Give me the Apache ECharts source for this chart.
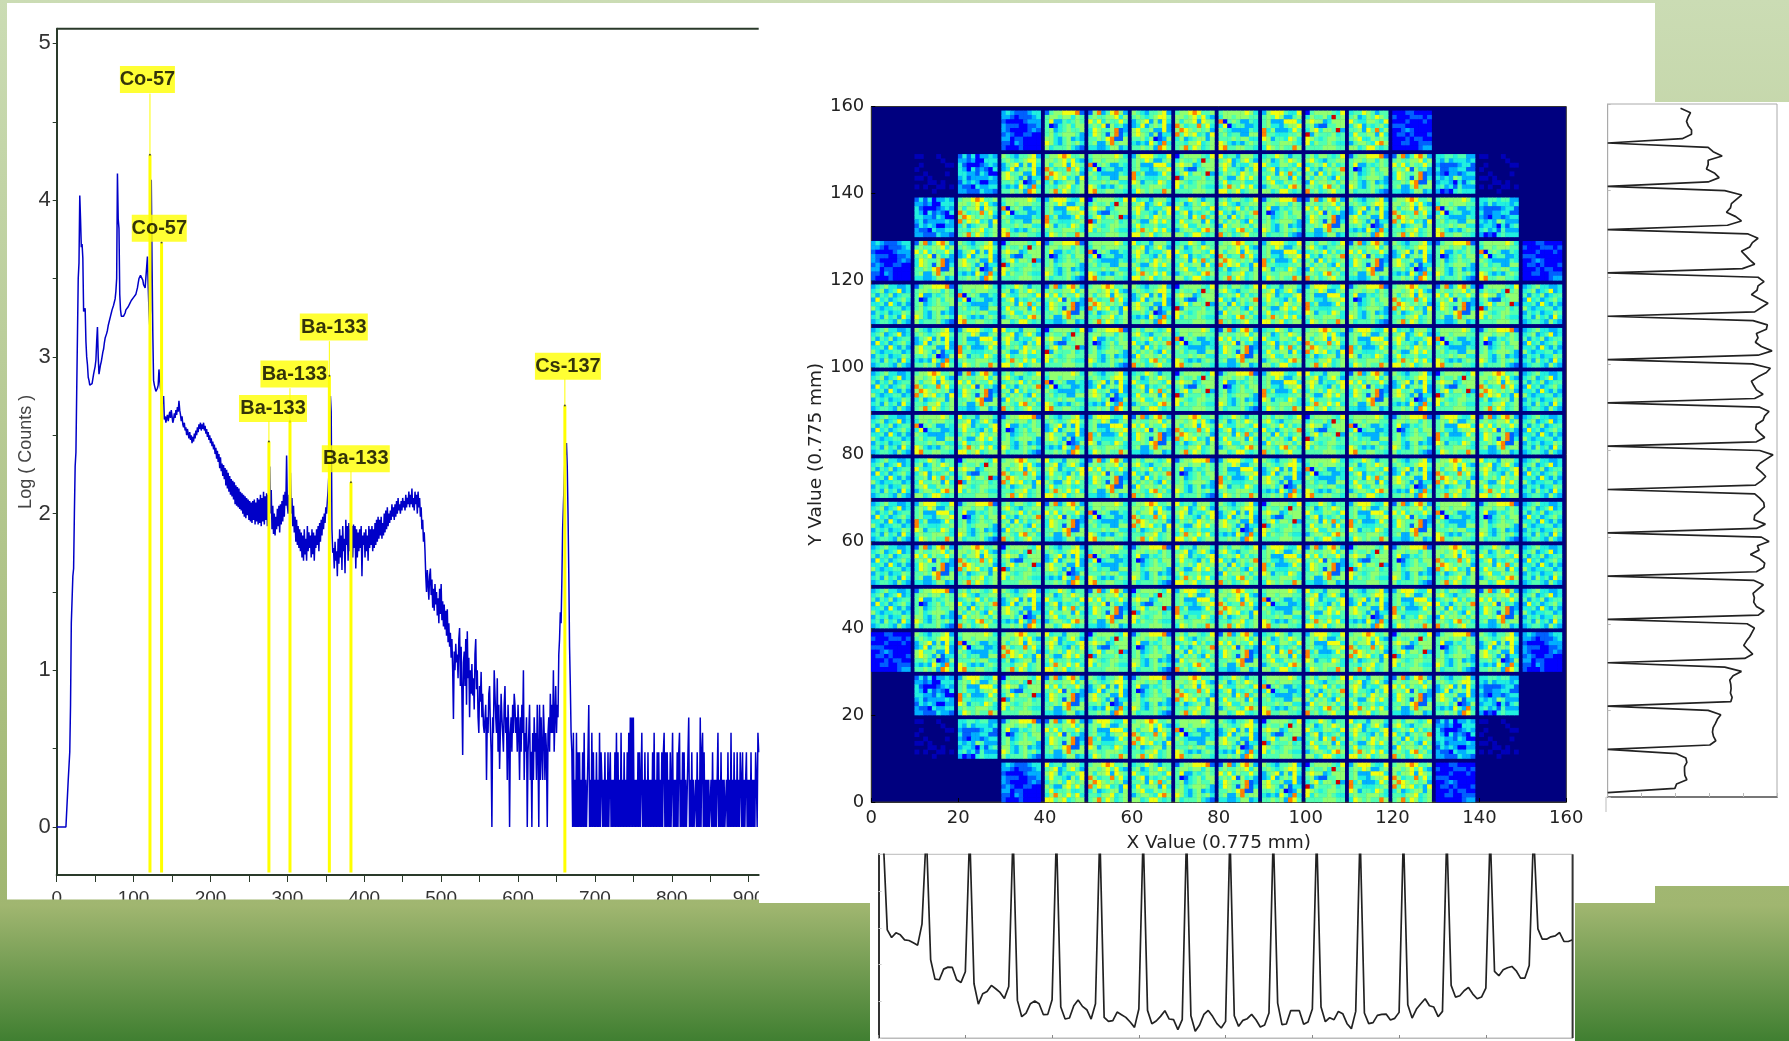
<!DOCTYPE html>
<html><head><meta charset="utf-8">
<style>html,body{margin:0;padding:0;background:#fff}#c{width:1789px;height:1041px}</style>
<script src="https://cdn.jsdelivr.net/npm/echarts@6/dist/echarts.min.js"></script>
</head><body><div id="c"></div>
<script>
// ---------- Gamma spectrum: log10(counts) x 100 ----------
const specA=[0,0,0,0,0,0,0,0,0,0,0,0,0,0,0,30,30,48,78,130,130,160,165,200,230,239,277,277,350,360,403,388,370,372,363,329,330,331,310,300,295,287,285,282,281,282,283,286,289,290,294,298,310,319,300,289,292,295,297,300,303,305,309,312,313,315,317,320,321,324,326,328,330,331,333,335,337,342,350,417,388,382,340,330,326,325,326,326,327,328,330,331,331,332,333,334,335,336,337,337,338,338,339,340,341,344,347,350,351,352,352,351,349,346,345,344,344,344,364,345,330,320,330,413,360,315,285,282,280,278,279,280,282,292,285,280,278,276,270,275];
const specB=[260,262,258,261,263,259,262,265,261,266,262,258,260,264,261,266,263,268,265,272,266,263,259,262,257,255,258,253,255,250,254,251,248,252,247,250,245,249,246,251,248,253,250,255,252,257,254,258,253,257,254,258,253,256,251,254,249,252,247,250,245,248,243,246,241,244,238,242,235,240,233,238,229,236,227,232,224,231,222,229,218,228,216,226,214,224,212,222,211,221,209,220,206,218,205,217,204,216,203,214,202,213,200,212,198,211,197,210,199,209,196,208,195,207,194,208,196,209,193,207,195,210,193,209,194,212,192,210,195,214,193,211,196,213,192,212,195,230,200,215,190,205,187,200,186,198,190,203,192,205,188,206,193,208,195,212,198,214,205,237];
const specC=[205,200,212,205,226,200,210,192,205,188,198,182,196,180,192,178,190,176,188,172,186,170,190,174,184,170,192,176,188,178,186,172,190,174,188,170,186,178,190,180,192,176,194,182,196,186,198,190,200,194,204,200,208,215,225,240,275,265,190,175,178,165,182,170,176,160,184,168,190,172,186,164,192,176,184,162,196,180,192,170,194,176,190,180,192,172,193,178,192,165,190,172,188,176,190,178,192,160,186,180,188,172,190,176,186,170,192,178,190,180,192,176,190,178,194,180,196,182,198,184,196,186,198,184,194,186,200,188,202,190,204,192,200,194,202,196,206,198,204,196,206,198,208,200,210,202,206,200,208,202,210,204,208,202,212,204,210,206,214,204,212,206,216,204,210,202,214,206,212,200,214,204,210,198,204,190,196,182,188,176];
const specD=[160,150,164,155,145,160,165,148,158,140,152,138,155,142,150,135,146,130,152,136,155,132,144,128,142,126,138,122,139,118,130,115,124,108,120,100,69,112,100,117,105,110,95,120,127,90,115,85,46,105,112,90,120,78,125,95,108,70,100,85,104,84,95,75,110,120,88,100,70,60,90,80,99,70,85,65,60,59,78,30,70,60,85,90,65,48,0,70,60,100,85,70,60,95,48,78,37,60,85,70,60,48,78,90,60,70,30,78,60,0,60,70,48,78,60,85,78,60,70,48,78,60,30,70,48,78,60,100,30,60,48,70,0,48,60,78,30,48,0,60,30,70,48,60,30,78,48,0,78,30,70,48,30,78,60,30,60,48,0,60,70,48,85,60,78,60,100,48,70,90,60,78,70,110,120,137,130,157,190,205,220,235,240,245,230,200,162,115,90,60];
// raw counts per channel from channel 670 upward (low-statistics tail)
const tailCounts=("3141214131"+"3121314121"+"1361214131"+"2131214132"+"1213121312"+"3121213141"+"3121412131"+"2131415151"+"5121213131"+"1412131213"+"1212131412"+"1313121313"+"4131312131"+"1412121313"+"4121313121"+"1151213121"+"1213121513"+"4131212121"+"1213121212"+"4121312121"+"1213121412"+"1312131213"+"2131212312"+"1213121213"+"2143").split("").map(Number);

// ---------- Peak annotations ----------
const isoNames=["Co-57","Co-57","Ba-133","Ba-133","Ba-133","Ba-133","Cs-137"];
const isoChannels=[121.3,136.4,276,303.4,354.6,382.7,660.9];
const isoPeaks=[4.29,3.73,2.46,2.59,2.88,2.20,2.69];
const isoLineTops=[4.68,3.73,2.59,2.80,3.10,2.27,2.86];
const isoLabelCh=[118,133.4,281.3,309.2,360.4,389,664.9];
const isoLabelVal=[4.77,3.82,2.67,2.89,3.19,2.35,2.94];
const isoLabelWidth=[55,55,68,68,68,68,66];

// ---------- Axis ticks ----------
const specXLabels=[0,100,200,300,400,500,600,700,800,900];
const specXTicks=[0,50,100,150,200,250,300,350,400,450,500,550,600,650,700,750,800,850,900];
const specYLabels=[0,1,2,3,4,5];
const specYTicks=[0,0.5,1,1.5,2,2.5,3,3.5,4,4.5,5];

// ---------- Detector map: 9x9 tiles read from zoomed modules (digit = colour level on the jet scale),
// and which tile sits at each of the 16x16 module positions. Tiles are re-used across modules: an approximation.
const tiles={
a:["256677782","566566465","573354565","512456466","563456556","564566653","664356343","764356564","645556432"],
b:["268357863","565566746","757465575","565726453","476556823","476526824","556578226","563368566","443346634"],
c:["654355673","565456775","356736374","347356573","675563373","676536244","556461236","434375384","556563875"],
d:["566787556","665675743","646673765","864558574","687656563","857674537","463456636","554667456","568576456"],
e:["566666764","466566655","815653354","471455334","654333354","564553366","555656644","764343565","785566554"],
f:["367775447","565763356","563337774","564435667","846333475","855444556","763554764","565566654","476565586"],
g:["156666547","465564956","676634666","563225566","467466593","936555645","765456655","746556544","555566655"],
h:["745536664","567346753","676354467","575543647","465647656","653367575","574556445","468657574","775674566"],
i:["455765355","563465765","754466547","467354564","556375846","475566374","567446565","356654786","664577545"],
j:["564665457","675435566","456574645","745356568","563746456","646564375","375665646","565478564","856456755"],
k:["345644334","456345734","535463455","374534564","445374353","643445534","354534465","453645374","345543643"],
D:["343222344","332122234","211112333","322211223","321111232","232112211","331221111","221321111","211121111"],
E:["111221111","211122212","111211121","222111111","112321111","122121112","111212211","112211222","111111233"],
M:["242413343","332311444","421112343","431423214","443324311","342333343","243431133","322143344","332224332"],
N:["445545533","435344434","322223442","422334422","321332344","434365333","344314245","453425333","312145444"],
F:["aa000a000","000000a00","0a00000aa","a00000000","00a0000a0","aa0a00000","000aa0a00","a0a00aa0a","0000a0000"]
};
const moduleMap=[
"...DabcdefgiE...",
".FMcdefghijabNF.",
".MdefghijabcdeN.",
"DbcgaehidfjbcaeE",
"kaeibdcgjhfadbgk",
"kcfhgajebidfheak",
"kdbjecigafhbcgdk",
"kehacfbdijgeafbk",
"kigdhbjafceicdhk",
"kfajbedhcgifbeak",
"kbdgceahjfbgadik",
"kajcibgfdehcfjbk",
"EcedhgajbifdgacD",
".MfgbcadiejhbcN.",
".FNabfdecgihjMF.",
"...DhdiabcgfdE..."];
const jetColors=["#00007f","#0000ff","#0060ff","#00b0ff","#20f0e0","#50ffb0","#90ff70","#f0ff10","#ff8000","#d00000"];
const heatTicks=[0,20,40,60,80,100,120,140,160];

// ---------- Side profiles ----------
const bottomProfile=[620,620,325,302,316,310,295,293,286,279,342,620,235,177,175,207,213,212,175,167,199,620,163,102,133,140,158,148,137,119,155,620,113,64,75,103,111,103,70,71,115,620,93,57,60,97,114,95,85,57,103,620,62,50,52,78,70,62,48,32,87,620,83,43,51,65,82,57,55,25,55,620,67,20,39,71,83,65,43,30,50,620,67,35,53,58,71,55,33,39,75,620,105,40,42,82,82,82,41,48,87,620,93,49,61,55,80,73,43,28,80,620,75,43,46,68,71,72,54,59,77,620,100,60,87,103,118,97,93,64,80,620,158,123,127,142,152,132,118,123,150,620,200,187,205,211,215,202,180,180,218,620,328,297,297,304,307,317,290,290,295];
const rightProfile=[0,202,207,238,232,231,231,238,235,207,0,307,325,318,315,317,324,330,340,302,0,370,374,369,371,370,367,377,402,352,0,412,436,422,409,417,427,434,441,419,0,453,470,447,439,441,437,452,468,440,0,447,469,472,457,429,455,450,485,462,0,447,474,440,442,457,471,469,457,442,0,444,462,475,462,447,457,477,497,457,0,447,472,457,445,447,467,472,485,457,0,442,467,447,439,432,452,477,489,435,0,452,494,462,444,452,447,477,480,437,0,442,462,482,457,432,449,452,470,452,0,405,442,427,415,402,427,435,452,422,0,360,402,385,357,369,372,387,403,352,0,302,335,322,297,302,302,344,317,302,0,224,252,252,242,237,242,249,219];
const profileScale=[0,110.4,220.8,331.2,441.6,552];
const rightScale=[0,101.8,203.6,305.4,407.2,509];

// ---------- Build ----------
const spectrum=[];
specA.concat(specB,specC,specD).forEach((v,i)=>spectrum.push([i,v/100]));
tailCounts.forEach((c,i)=>spectrum.push([670+i,Math.log10(c)]));

const heatData=[];
moduleMap.forEach((row,rowIdx)=>{
  const j=15-rowIdx;
  row.split("").forEach((ch,i)=>{
    const t=tiles[ch]; if(!t) return;
    t.forEach((line,r)=>line.split("").forEach((d,c)=>{
      const v=d==="a"?0.45:Number(d);
      if(v>0) heatData.push([10*i+c,10*j+8-r,v]);
    }));
  });
});
const cats=Array.from({length:160},(_,i)=>i);
const NARROW="'Liberation Sans Narrow','Liberation Sans',sans-serif";
const DEJA="'DejaVu Sans',sans-serif";
const pageGrad=()=>({type:'linear',global:true,x:0,y:0,x2:0,y2:1041,colorStops:[
  {offset:0,color:'#cbdcb4'},{offset:0.87,color:'#a0b670'},{offset:1,color:'#407f31'}]});
const rect=(x,y,w,h,fill,z)=>({type:'rect',shape:{x,y,width:w,height:h},style:{fill},z,silent:true});
const seg=(x1,y1,x2,y2,stroke,lw,z)=>({type:'line',shape:{x1,y1,x2,y2},style:{stroke,lineWidth:lw},z,silent:true});

const series=[
  {name:'spectrum',type:'line',xAxisIndex:0,yAxisIndex:0,data:spectrum,showSymbol:false,symbol:'none',
   lineStyle:{color:'#0000c8',width:1.5},clip:true,z:2,animation:false}
];
isoNames.forEach((n,k)=>{
  series.push({type:'line',xAxisIndex:0,yAxisIndex:0,symbol:'none',z:3,animation:false,
    data:[[isoChannels[k],-0.29],[isoChannels[k],isoPeaks[k]]],lineStyle:{color:'#ffff00',width:3}});
  series.push({type:'line',xAxisIndex:0,yAxisIndex:0,symbol:'none',z:3,animation:false,
    data:[[isoChannels[k],isoPeaks[k]],[isoChannels[k],isoLineTops[k]]],lineStyle:{color:'#ffff00',width:1}});
});
series.push({type:'scatter',xAxisIndex:0,yAxisIndex:0,symbolSize:2,z:4,animation:false,
  itemStyle:{color:'#222'},data:isoChannels.map((c,k)=>[c,isoPeaks[k]])});
series.push({type:'scatter',xAxisIndex:0,yAxisIndex:0,symbolSize:1,z:5,animation:false,
  itemStyle:{color:'rgba(0,0,0,0)'},
  data:isoNames.map((n,k)=>({value:[isoLabelCh[k],isoLabelVal[k]],
    label:{show:true,position:'inside',formatter:n,color:'#000',fontFamily:NARROW,fontWeight:'bold',fontSize:20,
      backgroundColor:'#ffff00',width:isoLabelWidth[k],height:27,lineHeight:27,align:'center',verticalAlign:'middle'}}))});
const heatIndex=series.length;
series.push({type:'heatmap',xAxisIndex:1,yAxisIndex:1,data:heatData,progressive:0,animation:false,z:2,silent:true});
series.push({type:'line',xAxisIndex:3,yAxisIndex:3,symbol:'none',clip:true,animation:false,z:2,
  data:rightProfile.map((v,i)=>[v,i+1]),lineStyle:{color:'#222',width:1.7}});
series.push({type:'line',xAxisIndex:4,yAxisIndex:4,symbol:'none',clip:true,animation:false,z:2,
  data:bottomProfile.map((v,i)=>[i,v]),lineStyle:{color:'#222',width:1.7}});

const chart=echarts.init(document.getElementById('c'),null,{renderer:'canvas',width:1789,height:1041});
const hidden={show:false};
chart.setOption({
  animation:false,
  backgroundColor:'#ffffff',
  grid:[
    {left:56.7,top:28.7,width:702,height:846.3,show:false},
    {left:871.3,top:106.5,width:695,height:695.5,show:true,backgroundColor:'#00007f',borderColor:'#333',borderWidth:1},
    {left:1607.7,top:104,width:169.3,height:693,show:true,backgroundColor:'#fff',borderColor:'#aaa',borderWidth:1},
    {left:878.6,top:854.3,width:694,height:183.7,show:true,backgroundColor:'#fff',borderColor:'#bbb',borderWidth:1}
  ],
  xAxis:[
    {gridIndex:0,type:'value',min:0,max:913,position:'bottom',
      axisLine:{show:true,onZero:false,lineStyle:{color:'#2a3a2a',width:2}},
      axisTick:{show:true,length:7,customValues:specXTicks,lineStyle:{color:'#2a3a2a',width:1}},
      axisLabel:{show:true,customValues:specXLabels,margin:14,fontFamily:NARROW,fontSize:19,color:'#333',hideOverlap:false},
      splitLine:hidden},
    {gridIndex:1,type:'category',data:cats,show:false,boundaryGap:true},
    {gridIndex:1,type:'value',min:0,max:160,interval:20,position:'bottom',name:'X Value (0.775 mm)',nameLocation:'middle',nameGap:32,
      nameTextStyle:{fontFamily:DEJA,fontSize:18.5,color:'#222'},
      axisLine:{show:true,onZero:false,lineStyle:{color:'#333'}},
      axisTick:{show:true,inside:true,length:4,lineStyle:{color:'#000'}},
      axisLabel:{show:true,margin:7,fontFamily:DEJA,fontSize:18,color:'#222'},splitLine:hidden},
    {gridIndex:2,type:'value',min:0,max:509,position:'bottom',
      axisLine:{show:true,onZero:false,lineStyle:{color:'#777',width:2}},
      axisTick:{show:true,inside:true,length:4,customValues:rightScale,lineStyle:{color:'#bbb'}},
      axisLabel:hidden,splitLine:hidden},
    {gridIndex:3,type:'value',min:0,max:160,interval:20,position:'bottom',
      axisLine:{show:true,onZero:false,lineStyle:{color:'#bbb'}},
      axisTick:{show:true,inside:true,length:3,lineStyle:{color:'#888'}},
      axisLabel:hidden,splitLine:hidden}
  ],
  yAxis:[
    {gridIndex:0,type:'value',min:-0.306,max:5.094,position:'left',name:'Log ( Counts )',nameLocation:'middle',nameGap:28,
      nameTextStyle:{fontFamily:"'Liberation Sans',sans-serif",fontSize:18,color:'#444',padding:[0,0,-40,0]},
      axisLine:{show:true,onZero:false,lineStyle:{color:'#2a3a2a',width:2}},
      axisTick:{show:true,length:4,customValues:specYTicks,lineStyle:{color:'#2a3a2a',width:1}},
      axisLabel:{show:true,customValues:specYLabels,margin:6,fontFamily:NARROW,fontSize:22,color:'#333',padding:[3,0,0,0]},
      splitLine:hidden},
    {gridIndex:1,type:'category',data:cats,show:false,boundaryGap:true},
    {gridIndex:1,type:'value',min:0,max:160,interval:20,position:'left',name:'Y Value (0.775 mm)',nameLocation:'middle',nameGap:46,
      nameTextStyle:{fontFamily:DEJA,fontSize:18.5,color:'#222'},
      axisLine:{show:true,onZero:false,lineStyle:{color:'#333'}},
      axisTick:{show:true,inside:true,length:4,lineStyle:{color:'#000'}},
      axisLabel:{show:true,margin:7,fontFamily:DEJA,fontSize:18,color:'#222'},splitLine:hidden},
    {gridIndex:2,type:'value',min:0,max:160,interval:20,position:'left',
      axisLine:{show:true,onZero:false,lineStyle:{color:'#aaa'}},
      axisTick:{show:true,inside:true,length:3,lineStyle:{color:'#bbb'}},
      axisLabel:hidden,splitLine:hidden},
    {gridIndex:3,type:'value',min:0,max:552,position:'left',
      axisLine:{show:true,onZero:false,lineStyle:{color:'#333',width:2}},
      axisTick:{show:true,inside:true,length:3,customValues:profileScale,lineStyle:{color:'#ccc'}},
      axisLabel:hidden,splitLine:hidden}
  ],
  visualMap:{show:false,type:'continuous',seriesIndex:heatIndex,dimension:2,min:0,max:9,inRange:{color:jetColors}},
  graphic:{elements:[
    rect(0,0,1789,1041,pageGrad(),-20),
    rect(7,3,752,897,'#ffffff',-19),
    rect(759,3,896,900,'#ffffff',-19),
    rect(870,3,705,1038,'#ffffff',-19),
    rect(1655,102,134,784,'#ffffff',-19),
    seg(56.7,28.7,758.7,28.7,'#2a3a2a',2,6),
    seg(1572.6,854.3,1572.6,1038,'#333',2,6),
    seg(1606,797,1606,812,'#bbb',1,6),
    rect(0,899.6,759,141.4,pageGrad(),49),
    rect(759,903,111,138,pageGrad(),49),
    rect(759,878,111,25,'#ffffff',50)
  ]},
  series
});
</script></body></html>
